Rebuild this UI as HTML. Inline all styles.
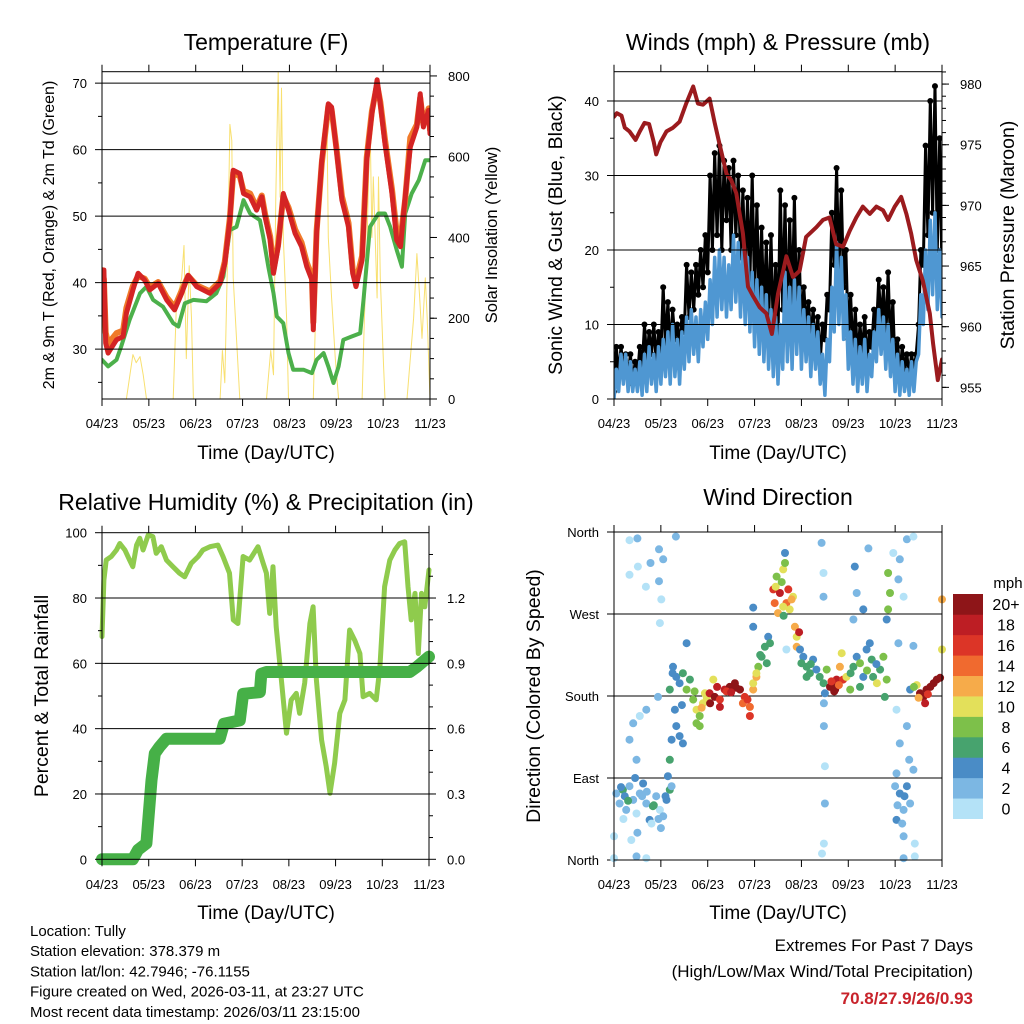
<!DOCTYPE html>
<html><head><meta charset="utf-8"><title>Station Meteogram - Tully</title>
<style>
html,body{margin:0;padding:0;background:#fff;}
svg{display:block;font-family:"Liberation Sans",Arial,sans-serif;}
</style></head>
<body>
<svg id="chart" width="1024" height="1024" viewBox="0 0 1024 1024" xmlns="http://www.w3.org/2000/svg">
<defs>
<clipPath id="c1"><rect x="102" y="71.7" width="328" height="327.3"/></clipPath>
<clipPath id="c2"><rect x="614" y="71.7" width="328" height="327.3"/></clipPath>
<clipPath id="c3"><rect x="96" y="526" width="340" height="340"/></clipPath>
</defs>
</svg>
<script>
// ---------- shared ----------
const timeTicks = ['04/23','05/23','06/23','07/23','08/23','09/23','10/23','11/23'];

// ---------- Temperature panel ----------
const tempTime = [0,0.04,0.08,0.13,0.31,0.45,0.52,0.66,0.77,0.91,1.02,1.2,1.38,1.55,1.7,1.84,2.02,2.3,2.52,2.62,2.73,2.8,2.94,3.02,3.16,3.3,3.41,3.48,3.59,3.66,3.76,3.87,3.98,4.12,4.26,4.37,4.48,4.51,4.58,4.69,4.83,4.9,5.01,5.12,5.26,5.35,5.42,5.55,5.65,5.76,5.87,5.94,6.04,6.19,6.29,6.37,6.47,6.58,6.72,6.79,6.86,6.97,7];
const temp2m = [37.4,41.9,30.9,29.4,31.4,31.9,35.4,38.9,41.4,40.4,38.9,39.9,37.4,35.9,38.4,41.1,39.4,38.4,39.9,42.9,49.4,56.9,56.4,53.4,52.9,50.9,52.9,49.9,46.4,41.4,45.4,53.4,50.9,47.4,45.4,42.4,40.4,32.9,47.4,58.4,66.9,66.4,59.4,52.4,48.4,41.4,39.4,43.4,58.4,65.4,70.5,66.9,60.9,53.4,46.4,45.4,52.9,60.4,63.4,68.4,63.4,65.9,62.4];
const temp9m = [41.9,40.5,32.5,30.8,32.4,32.8,36.2,39.5,41.0,40.6,39.3,40.1,37.8,36.3,38.8,41.0,39.6,38.7,40.2,43.2,49.8,56.5,56.0,53.8,53.4,51.3,53.1,50.3,46.9,42.0,45.8,53.0,51.3,48.0,46.0,43.0,41.0,34.0,47.8,58.0,66.5,66.0,59.8,53.0,49.0,42.0,40.2,44.0,58.8,65.8,69.8,67.2,61.5,54.0,47.5,46.5,52.5,61.8,63.8,67.8,63.8,66.2,63.0];
const dewTime = [0,0.13,0.31,0.41,0.59,0.81,0.95,1.09,1.3,1.52,1.63,1.77,1.95,2.23,2.44,2.59,2.73,2.87,3.02,3.16,3.37,3.44,3.55,3.66,3.73,3.87,3.98,4.08,4.3,4.48,4.58,4.73,4.83,4.94,5.05,5.15,5.33,5.51,5.58,5.72,5.9,6.04,6.15,6.29,6.4,6.47,6.61,6.76,6.9,7];
const dewPoint = [28.4,27.4,28.4,30.4,34.4,38.4,39.4,37.4,36.4,33.9,33.4,36.9,37.4,37.2,38.4,40.9,47.9,48.4,52.4,50.4,49.4,46.9,42.4,38.4,34.9,33.9,29.4,26.9,26.9,26.4,28.4,29.4,27.4,24.9,27.4,31.4,31.9,32.4,37.4,48.4,50.4,50.4,48.4,44.9,42.4,50.4,53.4,55.4,58.4,58.4];
const solarTime = [0,0.52,0.66,0.73,0.81,0.88,0.95,1.52,1.59,1.7,1.75,1.8,1.86,1.91,1.95,2.52,2.57,2.62,2.69,2.73,2.77,2.8,2.87,2.94,3.51,3.6,3.66,3.71,3.76,3.8,3.83,3.87,3.94,3.98,4.51,4.58,4.65,4.73,4.8,4.83,4.9,4.98,5.05,5.55,5.6,5.65,5.72,5.76,5.79,5.87,5.9,5.94,6.01,6.04,6.51,6.58,6.65,6.72,6.78,6.83,6.9,6.94,7];
const solar = [0,0,110,90,105,60,0,0,240,300,380,100,330,200,0,0,120,40,400,680,640,300,150,0,0,120,60,500,810,500,770,400,200,0,0,300,550,620,700,400,250,100,0,0,200,350,700,400,550,250,550,300,80,0,0,100,200,360,250,150,300,200,0];
const tempTicks = [30,40,50,60,70];
const solarTicks = [0,200,400,600,800];

// ---------- Wind panel ----------
const windSonic = [0,4,1,6,2,6,1,5,1,4, 1,5,0.5,6,1,7,2,6,1,7, 2,8,3,9,2,10,3,8,2,9, 4,11,5,12,6,11,5,12,7,13, 8,16,10,19,11,20,12,19,11,18, 12,22,13,21,11,20,10,19,9,17, 7,16,6,15,5,14,4,12,3,11, 2,10,4,17,5,15,4,16,6,15, 4,12,5,11,3,10,4,9,2,6, 0.5,8,5,15,9,21,10,19,8,14, 4,9,2,8,1,7,2,8,1,6, 3,9,5,12,6,11,4,10,3,8, 1,6,0.5,5,1,4,0.5,5,1,5, 6,14,10,20,12,24,14,25,12,20, 11];
const windGust = [1,7,3,7,4,6,3,6,2,5, 3,7,4,10,5,9,6,10,5,9, 6,15,7,13,6,12,8,10,7,11, 9,18,11,17,12,18,14,20,15,22, 17,30,20,33,22,34,20,32,24,31, 20,32,22,30,19,28,17,27,16,30, 14,26,12,23,11,21,10,22,9,18, 8,28,12,26,10,24,12,27,11,20, 9,15,10,13,8,12,7,11,5,10, 8,14,12,25,18,31,17,28,15,20, 8,14,6,12,5,10,6,11,5,9, 7,12,9,16,10,15,8,17,7,13, 4,8,3,7,4,6,3,6,4,6, 10,20,18,34,22,40,25,42,20,35, 17];
const pressTime = [0,0.06,0.16,0.23,0.33,0.46,0.55,0.65,0.75,0.85,0.9,0.99,1.12,1.26,1.4,1.54,1.69,1.79,1.9,2.04,2.15,2.25,2.4,2.5,2.61,2.75,2.86,2.97,3.11,3.25,3.37,3.5,3.68,3.82,3.96,4.1,4.32,4.46,4.6,4.74,4.89,5.03,5.17,5.31,5.46,5.6,5.74,5.85,5.99,6.13,6.24,6.34,6.45,6.59,6.74,6.81,6.91,7];
const pressure = [977.3,977.6,977.4,976.4,976.1,975.4,976.1,976.8,976.7,975.2,974.2,975.2,976.1,976.4,976.9,978.4,979.8,978.4,978.3,978.8,976.8,975.1,972.6,972.1,971.0,967.7,963.3,962.5,961.6,961.1,959.4,962.7,965.8,964.1,964.6,967.4,968.2,968.8,969.0,966.8,966.6,967.9,969.0,969.9,969.3,969.9,969.6,968.8,969.9,970.7,969.3,967.7,965.5,963.8,961.1,958.6,955.6,957.3];
const windTicks = [0,10,20,30,40];
const pressTicks = [955,960,965,970,975,980];

// ---------- RH / precip panel ----------
const rhTime = [0,0.04,0.09,0.2,0.31,0.38,0.49,0.59,0.66,0.74,0.81,0.88,0.99,1.09,1.16,1.27,1.38,1.52,1.66,1.77,1.91,2.06,2.16,2.31,2.48,2.59,2.73,2.81,2.91,3.02,3.16,3.34,3.45,3.52,3.59,3.66,3.73,3.84,3.95,4.05,4.16,4.23,4.34,4.45,4.52,4.59,4.7,4.8,4.88,4.98,5.09,5.2,5.3,5.41,5.52,5.59,5.73,5.87,5.95,6.05,6.16,6.27,6.37,6.48,6.55,6.62,6.7,6.77,6.84,6.91,7];
const rh = [68.2,85.5,91.6,92.7,94.7,96.7,94.7,91.6,89.6,96.2,98.3,94.7,99.3,98.8,93.7,95.7,91.6,89.6,87.6,86.5,90.6,92.7,94.7,95.7,96.2,92.7,87.6,73.3,72.2,92.7,91.6,95.7,90.6,87.6,75.3,89.6,71.2,54.9,38.6,48.8,50.8,44.7,54.0,72.2,77.3,54.9,36.5,28.4,20.2,29.4,44.7,48.8,70.2,67.1,63.0,49.8,50.8,48.8,58.8,83.5,91.6,94.7,96.7,97.2,83.5,73.3,81.4,63.0,81.4,77.3,88.6];
const rainTime = [0,0.66,0.77,0.95,1.06,1.13,1.23,1.38,2.52,2.61,2.95,3.02,3.38,3.41,3.52,6.59,6.73,7];
const rain = [0,0,0.043,0.073,0.363,0.486,0.516,0.554,0.554,0.623,0.638,0.76,0.768,0.852,0.86,0.86,0.882,0.931];
const rhTicks = [0,20,40,60,80,100];
const rainTicks = ['0.0','0.3','0.6','0.9','1.2'];

// ---------- Wind direction panel ----------
const dirLabels = ['North','East','South','West','North'];
const speedLabels = ['0','2','4','6','8','10','12','14','16','18','20+'];
const speedColors = ['#b4e2f7','#7cb7e3','#4a8cc6','#47a36e','#7dc04a','#e3e05a','#f6ab4a','#f06a2f','#dc3527','#bd1e24','#8e1518'];
const dirObs = [
[0.05,73,2],[0.12,62,3],[0.19,77,6],[0.26,55,2],[0.23,70,4],[0.33,81,3],[0.41,66,2],[0.48,51,1],[0.55,73,3],[0.62,84,4],[0.69,62,2],[0.76,44,4],[0.83,59,7],[0.9,70,3],[0.98,55,1],[1.05,48,2],[1.12,66,4],[1.19,77,6],[1.15,92,4],[0.33,132,2],[0.41,150,2],[0.55,158,1],[0.69,165,2],[0.48,110,2],[0.37,22,1],[0.48,4,2],[0.69,2,1],[0,26,1],[0,2,1],[0.33,351,0],[0.5,353,2],[0.51,322,0],[0.33,313,0],[0.68,300,1],[0.78,326,2],[0.96,341,2],[1.05,330,2],[1.01,286,1],[0.96,306,3],[0.98,260,1],
[0.15,80,5],[0.3,65,7],[0.45,90,4],[0.6,70,2],[0.85,60,7],[0.95,45,3],[1.1,70,5],[0.2,45,1],[0.5,30,2],[0.7,75,3],[0.8,40,1],[1.0,35,2],
[1.19,187,6],[1.26,212,4],[1.33,201,4],[1.4,194,5],[1.47,205,6],[1.55,187,8],[1.62,198,7],[1.3,165,4],[1.33,147,4],[1.4,136,4],[1.47,128,5],[1.23,132,4],[1.19,110,6],[1.23,81,3],[1.55,238,4],[1.32,355,2],[0.94,179,3],[1.25,205,4],[1.45,170,5],
[1.69,176,9],[1.76,165,10],[1.83,158,9],[1.9,172,10],[1.94,183,11],[1.83,147,8],[1.76,150,8],[1.87,167,13],[1.72,185,9],[1.98,178,10],
[2.04,183,18],[2.15,179,20],[2.26,176,16],[2.36,187,18],[2.47,190,20],[2.58,194,22],[2.69,187,20],[2.79,179,17],[2.9,168,14],[2.9,158,16],[2.26,168,18],[2.4,185,16],[2.61,189,21],[2.12,198,10],[2.97,187,12],[2.2,190,18],[2.5,184,19],[2.75,172,15],[2.85,176,16],[2.05,172,20],
[2.97,194,10],[3.04,201,12],[3.08,212,8],[3.15,223,7],[3.22,234,6],[3.26,216,6],[3.29,245,4],[3.33,238,6],[3.04,205,11],[2.97,277,4],[2.97,256,4],[3.12,225,7],
[3.4,297,16],[3.43,282,14],[3.47,311,8],[3.54,293,18],[3.61,319,10],[3.65,326,8],[3.68,282,14],[3.75,275,11],[3.82,289,10],[3.5,271,12],[3.61,278,10],[3.72,297,17],[3.79,286,12],[3.65,337,4],[3.68,231,1],[3.45,300,10],[3.58,305,8],[3.62,268,6],
[3.86,256,12],[3.9,245,10],[3.9,234,12],[3.97,231,4],[4.04,223,4],[4.11,212,6],[4.18,205,6],[4.25,220,5],[4.32,209,4],[4.39,201,6],[4.0,216,6],[4.11,201,7],[3.95,250,18],[4.2,215,6],
[4.47,194,6],[4.54,209,8],[4.5,183,4],[4.43,348,2],[4.47,315,1],[4.47,289,3],[4.48,172,3],[4.48,147,3],[4.5,103,1],[4.5,62,3],[4.48,18,1],[4.44,7,1],
[4.61,190,20],[4.68,194,22],[4.75,198,18],[4.72,187,20],[4.64,196,16],[4.82,212,12],[4.86,227,11],[4.89,198,16],[4.96,201,10],[5.04,187,8],[4.7,185,22],[4.8,192,14],
[5.11,212,6],[5.18,223,5],[5.25,216,8],[5.32,201,5],[5.39,231,4],[5.46,238,4],[5.5,220,6],[5.53,201,7],[5.61,194,10],[5.68,209,7],[5.75,223,8],[5.82,198,8],[5.78,179,7],[5.11,264,3],[5.14,322,4],[5.43,342,3],[5.32,275,4],[5.18,293,3],[5.05,205,6],[5.4,208,9],[5.6,215,4],[5.25,190,7],
[5.85,315,8],[5.89,293,9],[5.85,275,8],[5.82,264,5],
[5.96,337,1],[6.1,330,2],[6.25,352,2],[6.39,355,0],[6.07,308,3],[6.18,289,1],[6.07,238,3],[6.39,235,2],[6.03,165,1],[6.1,128,3],[6.03,95,2],[6.1,73,4],[6.18,55,3],[6.25,81,4],[6.32,62,3],[6.39,99,2],[6.03,44,4],[6.18,26,2],[6.42,18,1],[6.18,2,2],[6.42,4,1],[6.0,81,2],[6.25,147,2],[6.05,60,3],[6.2,70,4],[6.15,40,2],[6.3,110,3],
[6.32,187,4],[6.46,192,10],[6.53,183,20],[6.6,179,22],[6.67,187,20],[6.75,190,22],[6.82,194,20],[6.89,198,21],[6.96,200,22],[6.64,172,18],[7.0,286,13],[7.0,231,10],[6.5,178,12],[6.7,182,16],[6.4,190,9]
];

// ---------- drawing helpers ----------
const NS = 'http://www.w3.org/2000/svg';
const svg = document.getElementById('chart');
function make(tag, attrs, parent){
  const e = document.createElementNS(NS, tag);
  for (const k in attrs) e.setAttribute(k, attrs[k]);
  (parent || svg).appendChild(e);
  return e;
}
function text(x, y, s, size, anchor, parent){
  const e = make('text', {x:x, y:y, 'font-size':size, 'text-anchor':anchor || 'middle', fill:'#000'}, parent);
  e.textContent = s;
  return e;
}
function group(name){
  const g = make('g', {});
  
  
  return g;
}

const P1 = {x0:102, x1:430, y0:71.7, y1:399};
const P2 = {x0:614, x1:942, y0:71.7, y1:399};
const P3 = {x0:102, x1:429, y0:532.7, y1:859.3};
const P4 = {x0:614, x1:942, y0:532, y1:860};

function xScale(p, t){ return p.x0 + t / 7 * (p.x1 - p.x0); }
function yLin(p, v, lo, hi){ return p.y1 - (v - lo) / (hi - lo) * (p.y1 - p.y0); }

const T_LO = 22.5, T_HI = 71.72;
const S_LO = 0, S_HI = 810.5;
const W_LO = 0, W_HI = 43.93;
const PR_LO = 954.04, PR_HI = 981.02;
const RH_LO = 0, RH_HI = 100;
const R_LO = 0, R_HI = 1.5;
const D_LO = 0, D_HI = 360;

function polyline(points, color, width, parent, name){
  const e = make('polyline', {points: points.join(' '), fill:'none', stroke:color, 'stroke-width':width, 'stroke-linejoin':'round', 'stroke-linecap':'round'}, parent);
  
  
  return e;
}

function timeAxis(p, g, labelY){
  timeTicks.forEach(function(lab, i){
    const x = xScale(p, i);
    const tb = make('line', {x1:x, x2:x, y1:p.y1, y2:p.y1 + 7, stroke:'#000', 'stroke-width':1}, g);
    
    
    const tt = make('line', {x1:x, x2:x, y1:p.y0, y2:p.y0 - 7, stroke:'#000', 'stroke-width':1}, g);
    
    
    const lt = text(x, labelY, lab, 13, 'middle', g);
    
    
  });
}

function frame(p, g, name){
  const r = make('rect', {x:p.x0, y:p.y0, width:p.x1 - p.x0, height:p.y1 - p.y0, fill:'none', stroke:'#000', 'stroke-width':1}, g);
  
  
}

function leftAxis(p, g, ticks, labels, lo, hi, minors, grid){
  minors.forEach(function(v){
    const y = yLin(p, v, lo, hi);
    const m = make('line', {x1:p.x0 - 4, x2:p.x0, y1:y, y2:y, stroke:'#000', 'stroke-width':1}, g);
    
    
  });
  ticks.forEach(function(v, i){
    const y = yLin(p, v, lo, hi);
    const t = make('line', {x1:p.x0 - 7, x2:p.x0, y1:y, y2:y, stroke:'#000', 'stroke-width':1}, g);
    
    
    if (grid && y > p.y0 + 0.5 && y < p.y1 - 0.5) {
      const gl = make('line', {x1:p.x0, x2:p.x1, y1:y, y2:y, stroke:'#000', 'stroke-width':1}, g);
      
      
    }
    const l = text(p.x0 - 15, y + 5, labels[i], 13, 'end', g);
    
    
  });
}

function rightAxis(p, g, ticks, labels, lo, hi, minors){
  minors.forEach(function(v){
    const y = yLin(p, v, lo, hi);
    const m = make('line', {x1:p.x1, x2:p.x1 + 4, y1:y, y2:y, stroke:'#000', 'stroke-width':1}, g);
    
    
  });
  ticks.forEach(function(v, i){
    const y = yLin(p, v, lo, hi);
    const t = make('line', {x1:p.x1, x2:p.x1 + 7, y1:y, y2:y, stroke:'#000', 'stroke-width':1}, g);
    
    
    const l = text(p.x1 + 18, y + 5, labels[i], 13, 'start', g);
    
    
  });
}

function vtitle(x, y, s, size, g, name){
  const e = make('text', {x:x, y:y, 'font-size':size, 'text-anchor':'middle', transform:'rotate(-90 ' + x + ' ' + y + ')'}, g);
  e.textContent = s;
  
  
}
function htitle(x, y, s, size, g, name){
  const e = text(x, y, s, size, 'middle', g);
  
  
}
function range(a, b, s){ const r = []; for (let v = a; v <= b + 1e-9; v += s) r.push(+v.toFixed(3)); return r; }

// ================= Panel 1: Temperature =================
const g1 = group('temperature-panel');
const d1 = make('g', {'clip-path':'url(#c1)'}, g1);


polyline(solarTime.map(function(t, i){ return xScale(P1, t).toFixed(1) + ',' + yLin(P1, solar[i], S_LO, S_HI).toFixed(1); }), '#f8e070', 1, d1, 'solar-insolation-line');
polyline(dewTime.map(function(t, i){ return xScale(P1, t).toFixed(1) + ',' + yLin(P1, dewPoint[i], T_LO, T_HI).toFixed(1); }), '#4cb04b', 4, d1, 'dewpoint-line');
polyline(tempTime.map(function(t, i){ return xScale(P1, t).toFixed(1) + ',' + yLin(P1, temp9m[i], T_LO, T_HI).toFixed(1); }), '#f07a2a', 6, d1, 'temp-9m-line');
polyline(tempTime.map(function(t, i){ return xScale(P1, t).toFixed(1) + ',' + yLin(P1, temp2m[i], T_LO, T_HI).toFixed(1); }), '#d42424', 5, d1, 'temp-2m-line');
leftAxis(P1, g1, tempTicks, tempTicks.map(String), T_LO, T_HI, range(25, 65, 10), true);
rightAxis(P1, g1, solarTicks, solarTicks.map(String), S_LO, S_HI, range(50, 750, 50));
frame(P1, g1, 'temperature-plot-frame');
timeAxis(P1, g1, 428);
htitle(266, 50, 'Temperature (F)', 23, g1, 'temperature-title');
htitle(266, 459, 'Time (Day/UTC)', 19, g1, 'x-axis-title');
vtitle(54, 235, '2m & 9m T (Red, Orange) & 2m Td (Green)', 16, g1, 'y-axis-title');
vtitle(497, 235, 'Solar Insolation (Yellow)', 16.5, g1, 'y2-axis-title');

// ================= Panel 2: Winds & Pressure =================
const g2 = group('winds-panel');
const d2 = make('g', {'clip-path':'url(#c2)'}, g2);


const gustPts = windGust.map(function(v, i){ return xScale(P2, i * 0.05).toFixed(1) + ',' + yLin(P2, v, W_LO, W_HI).toFixed(1); });
polyline(gustPts, '#000', 3, d2, 'gust-band');
windGust.forEach(function(v, i){
  const c = make('circle', {cx:xScale(P2, i * 0.05), cy:yLin(P2, v, W_LO, W_HI), r:3, fill:'#000'}, d2);
  
  
});
polyline(windSonic.map(function(v, i){ return xScale(P2, i * 0.05).toFixed(1) + ',' + yLin(P2, v, W_LO, W_HI).toFixed(1); }), '#4f97d2', 3.5, d2, 'sonic-wind-line');
polyline(pressTime.map(function(t, i){ return xScale(P2, t).toFixed(1) + ',' + yLin(P2, pressure[i], PR_LO, PR_HI).toFixed(1); }), '#9b1b1e', 4, d2, 'pressure-line');
leftAxis(P2, g2, windTicks, windTicks.map(String), W_LO, W_HI, range(5, 35, 10), true);
rightAxis(P2, g2, pressTicks, pressTicks.map(String), PR_LO, PR_HI, range(955, 981, 1));
frame(P2, g2, 'winds-plot-frame');
timeAxis(P2, g2, 428);
htitle(778, 50, 'Winds (mph) & Pressure (mb)', 23, g2, 'winds-title');
htitle(778, 459, 'Time (Day/UTC)', 19, g2, 'x-axis-title');
vtitle(562, 235, 'Sonic Wind & Gust (Blue, Black)', 19.5, g2, 'y-axis-title');
vtitle(1014, 235, 'Station Pressure (Maroon)', 19.5, g2, 'y2-axis-title');

// ================= Panel 3: RH & Precip =================
const g3 = group('humidity-panel');
const d3 = make('g', {'clip-path':'url(#c3)'}, g3);


leftAxis(P3, g3, rhTicks, rhTicks.map(String), RH_LO, RH_HI, range(10, 90, 20), true);
rightAxis(P3, g3, rainTicks.map(Number), rainTicks, R_LO, R_HI, range(0.1, 1.4, 0.1));
polyline(rhTime.map(function(t, i){ return xScale(P3, t).toFixed(1) + ',' + yLin(P3, rh[i], RH_LO, RH_HI).toFixed(1); }), '#8fcb4d', 5, d3, 'relative-humidity-line');
polyline(rainTime.map(function(t, i){ return xScale(P3, t).toFixed(1) + ',' + yLin(P3, rain[i], R_LO, R_HI).toFixed(1); }), '#46b047', 12, d3, 'precipitation-line');
frame(P3, g3, 'humidity-plot-frame');
timeAxis(P3, g3, 889);
htitle(266, 510, 'Relative Humidity (%) & Precipitation (in)', 23, g3, 'humidity-title');
htitle(266, 919, 'Time (Day/UTC)', 19, g3, 'x-axis-title');
vtitle(48, 696, 'Percent & Total Rainfall', 19.5, g3, 'y-axis-title');

// ================= Panel 4: Wind direction =================
const g4 = group('wind-direction-panel');
leftAxis(P4, g4, [0, 90, 180, 270, 360], dirLabels, D_LO, D_HI, [], true);
dirObs.forEach(function(o){
  const idx = Math.min(10, Math.floor(o[2] / 2));
  const c = make('circle', {cx:xScale(P4, o[0]).toFixed(1), cy:yLin(P4, o[1], D_LO, D_HI).toFixed(1), r:4, fill:speedColors[idx]}, g4);
  
  
});
frame(P4, g4, 'direction-plot-frame');
timeAxis(P4, g4, 889);
htitle(778, 505, 'Wind Direction', 23, g4, 'wind-direction-title');
htitle(778, 919, 'Time (Day/UTC)', 19, g4, 'x-axis-title');
vtitle(540, 696, 'Direction (Colored By Speed)', 19.5, g4, 'y-axis-title');

// colorbar
const cb = group('speed-colorbar');
const cbTop = 594, cbBot = 818.7, cbH = (cbBot - cbTop) / speedColors.length;
speedColors.forEach(function(col, i){
  const y = cbBot - (i + 1) * cbH;
  const r = make('rect', {x:953, y:y, width:30, height:cbH + 0.3, fill:col}, cb);
  
  
  const l = text(1006, y + cbH / 2 + 6, speedLabels[i], 16, 'middle', cb);
  
  
});
const mph = text(1008, 588, 'mph', 15, 'middle', cb);



// ================= Footer info =================
const info = group('station-info');
const infoLines = ['Location: Tully','Station elevation: 378.379 m','Station lat/lon: 42.7946; -76.1155','Figure created on Wed, 2026-03-11, at 23:27 UTC','Most recent data timestamp: 2026/03/11 23:15:00'];
infoLines.forEach(function(s, i){
  const t = text(30, 936 + i * 20.2, s, 15, 'start', info);
  
  
});
const ext = group('extremes-summary');
const e1 = text(973, 951, 'Extremes For Past 7 Days', 17, 'end', ext);


const e2 = text(973, 977, '(High/Low/Max Wind/Total Precipitation)', 17, 'end', ext);


const e3 = text(973, 1004, '70.8/27.9/26/0.93', 17, 'end', ext);
e3.setAttribute('font-weight', 'bold');
e3.setAttribute('fill', '#c8232b');


</script>
</body></html>
